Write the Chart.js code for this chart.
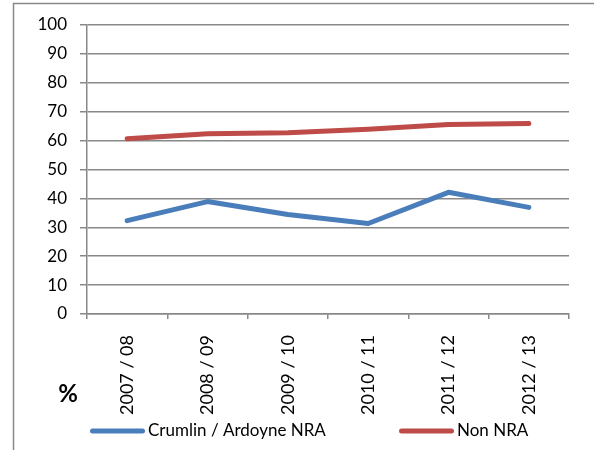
<!DOCTYPE html>
<html>
<head>
<meta charset="utf-8">
<script src="https://cdn.jsdelivr.net/npm/chart.js"></script>
<style>
  html, body { margin: 0; padding: 0; background: #fff; }
  #wrap { width: 594px; height: 450px; }
</style>
</head>
<body>
<div id="wrap"><canvas id="myChart" width="594" height="450"></canvas></div>
<script>
// data
const years = ["2007 / 08", "2008 / 09", "2009 / 10", "2010 / 11", "2011 / 12", "2012 / 13"];
const crumlinArdoyne = [32.3, 38.9, 34.4, 31.3, 42.1, 36.9];
const nonNra = [60.6, 62.4, 62.7, 63.9, 65.6, 65.9];
const yTicks = [0, 10, 20, 30, 40, 50, 60, 70, 80, 90, 100];

const seriesNames = ["Crumlin / Ardoyne NRA", "Non NRA"];
const blue = "#4A7EBB";
const red = "#BE4B48";
const gridGrey = "#888888";
const font = "Lato, 'Open Sans', sans-serif";

// frame, % label and the legend are drawn by hand
const extras = {
  id: "extras",
  beforeDraw(chart) {
    const ctx = chart.ctx;
    ctx.save();
    ctx.strokeStyle = gridGrey;
    ctx.lineWidth = 1.5;
    ctx.beginPath();
    ctx.moveTo(13.5, 450);
    ctx.lineTo(13.5, 3.5);
    ctx.lineTo(594, 3.5);
    ctx.stroke();
    ctx.restore();
  },
  afterDraw(chart) {
    const ctx = chart.ctx;
    ctx.save();
    ctx.fillStyle = "#000";
    ctx.font = "bold 24px " + font;
    ctx.textAlign = "center";
    ctx.textBaseline = "middle";
    ctx.fillText("%", 68, 394);

    const legendPos = [92.5, 401.5];
    ctx.font = "17px " + font;
    ctx.textAlign = "left";
    chart.data.datasets.forEach((ds, i) => {
      const x = legendPos[i];
      ctx.strokeStyle = ds.borderColor;
      ctx.lineWidth = 5;
      ctx.lineCap = "round";
      ctx.beginPath();
      ctx.moveTo(x, 431);
      ctx.lineTo(x + 50, 431);
      ctx.stroke();
      ctx.fillText(ds.label, x + 55.5, 431);
    });
    ctx.restore();
  }
};

new Chart("myChart", {
  type: "line",
  data: {
    labels: years,
    datasets: [
      {
        label: seriesNames[0],
        data: crumlinArdoyne,
        borderColor: blue,
        backgroundColor: blue,
        borderWidth: 5,
        borderCapStyle: "round",
        borderJoinStyle: "round",
        pointRadius: 0,
        tension: 0
      },
      {
        label: seriesNames[1],
        data: nonNra,
        borderColor: red,
        backgroundColor: red,
        borderWidth: 5,
        borderCapStyle: "round",
        borderJoinStyle: "round",
        pointRadius: 0,
        tension: 0
      }
    ]
  },
  options: {
    responsive: false,
    animation: false,
    layout: { padding: { left: 0, right: 25, top: 25, bottom: 0 } },
    plugins: {
      legend: { display: false },
      tooltip: { enabled: false }
    },
    scales: {
      x: {
        offset: true,
        afterFit: (scale) => { scale.height = 136; },
        grid: {
          offset: true,
          drawOnChartArea: false,
          drawTicks: true,
          tickLength: 5,
          color: gridGrey,
          lineWidth: 1.5
        },
        border: { display: true, color: gridGrey, width: 1.5 },
        ticks: {
          minRotation: 90,
          maxRotation: 90,
          autoSkip: false,
          padding: 16,
          color: "#000",
          font: { family: font, size: 18 }
        }
      },
      y: {
        min: 0,
        max: 100,
        afterFit: (scale) => { scale.width = 87; },
        afterBuildTicks: (scale) => { scale.ticks = yTicks.map(v => ({ value: v })); },
        grid: {
          color: gridGrey,
          lineWidth: 1.5,
          tickLength: 7
        },
        border: { display: true, color: gridGrey, width: 1.5 },
        ticks: {
          padding: 13,
          color: "#000",
          font: { family: font, size: 17 }
        }
      }
    }
  },
  plugins: [extras]
});
</script>
</body>
</html>
